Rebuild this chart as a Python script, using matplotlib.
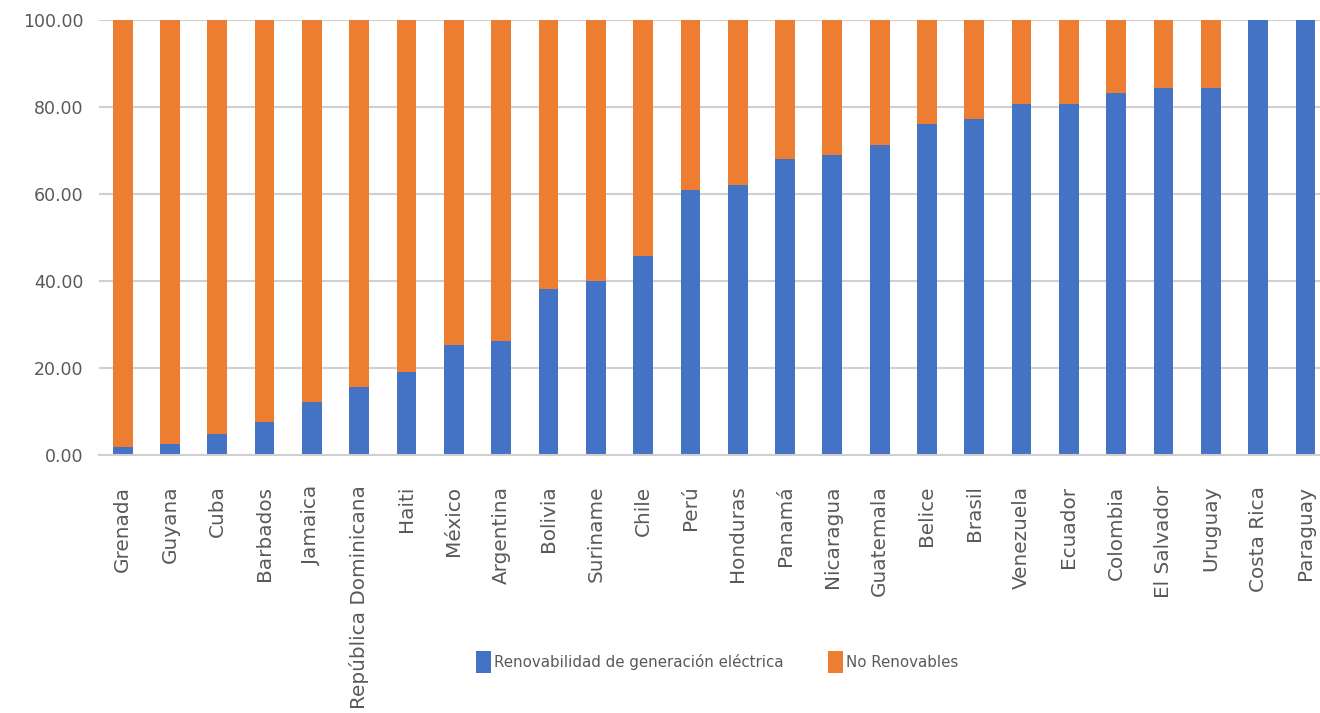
import matplotlib.pyplot as plt
import numpy as np

# data (percent of electricity generation)
countries = ["Grenada", "Guyana", "Cuba", "Barbados", "Jamaica", "República Dominicana",
             "Haiti", "México", "Argentina", "Bolivia", "Suriname", "Chile", "Perú",
             "Honduras", "Panamá", "Nicaragua", "Guatemala", "Belice", "Brasil",
             "Venezuela", "Ecuador", "Colombia", "El Salvador", "Uruguay",
             "Costa Rica", "Paraguay"]
renovable = [1.8, 2.5, 4.8, 7.6, 12.2, 15.7, 19.0, 25.3, 26.3, 38.1, 40.1, 45.8, 61.0,
             62.1, 68.1, 69.0, 71.2, 76.0, 77.2, 80.7, 80.8, 83.3, 84.3, 84.4,
             100.0, 100.0]
no_renovable = [100 - v for v in renovable]

blue = "#4472C4"
orange = "#ED7D31"
text_gray = "#595959"

fig = plt.figure(figsize=(13.2, 7.13), dpi=100)
ax = fig.add_axes([99 / 1320, (713 - 455) / 713, 1221 / 1320, 435 / 713])

x = np.arange(len(countries))
width = 0.417
ax.bar(x, renovable, width, color=blue, label="Renovabilidad de generación eléctrica", zorder=2)
ax.bar(x, no_renovable, width, bottom=renovable, color=orange, label="No Renovables", zorder=2)

ax.set_xlim(-0.5, len(countries) - 1 + 14 / 45.54)
ax.set_ylim(0, 100)
ax.set_yticks(np.arange(0, 101, 20))
ax.set_yticklabels([f"{v:.2f}" for v in np.arange(0, 101, 20)], fontsize=12.5, color=text_gray)
ax.set_xticks(x)
ax.set_xticklabels(countries, rotation=90, fontsize=14.4, color=text_gray, va="top", ha="center")
ax.tick_params(axis="both", length=0)
ax.tick_params(axis="y", pad=11)
ax.tick_params(axis="x", pad=22)

ax.grid(axis="y", color="#D0D0D0", linewidth=1.5)
ax.set_axisbelow(True)
for side in ["top", "right", "left"]:
    ax.spines[side].set_visible(False)
ax.spines["bottom"].set_color("#D0D0D0")
ax.spines["bottom"].set_linewidth(1.5)

fig.legend(loc="center", bbox_to_anchor=(717 / 1320, 1 - 662 / 713), ncol=2, frameon=False,
           prop={"size": 10.8}, labelcolor=text_gray,
           handlelength=1.0, handleheight=1.8, handletextpad=0.2, columnspacing=3.0)

fig.savefig("out.png", dpi=100, facecolor="white")
